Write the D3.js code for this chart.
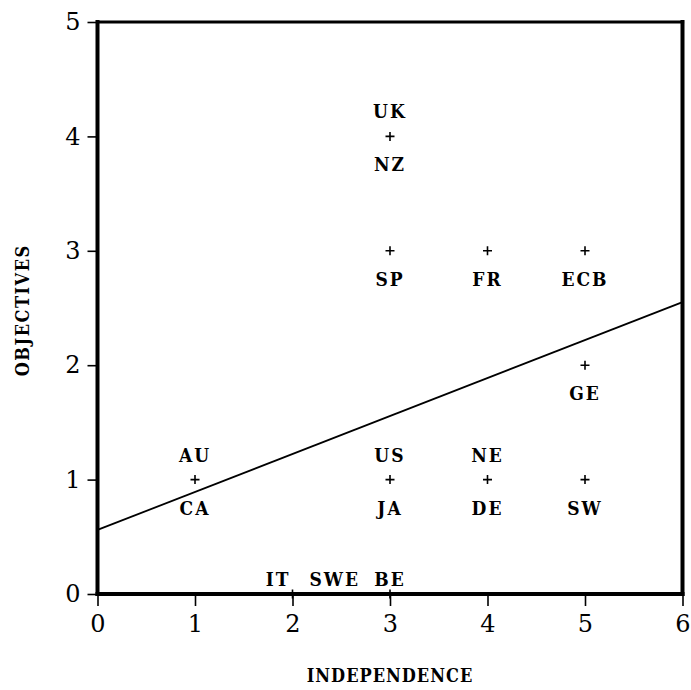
<!DOCTYPE html>
<html>
<head>
<meta charset="utf-8">
<script src="https://cdn.jsdelivr.net/npm/d3@7"></script>
<style>
  html, body { margin: 0; padding: 0; background: #fff; }
  svg { display: block; }
</style>
</head>
<body>
<svg id="chart" width="691" height="690"></svg>
<script>
// ---- data ----
const countries    = ["UK","NZ","SP","FR","ECB","GE","AU","CA","US","JA","NE","DE","SW","IT","SWE","BE"];
const independence = [3, 3, 3, 4, 5, 5, 1, 1, 3, 3, 4, 4, 5, 2, 2, 3];
const objectives   = [4, 4, 3, 3, 3, 2, 1, 1, 1, 1, 1, 1, 1, 0, 0, 0];
const labelSide    = ["N","S","S","S","S","S","N","S","N","S","N","S","S","NW","NE","N"];
const xTicks = [0, 1, 2, 3, 4, 5, 6];
const yTicks = [0, 1, 2, 3, 4, 5];
const fitIntercept = 0.56;
const fitSlope = 0.332;
const xTitle = "INDEPENDENCE";
const yTitle = "OBJECTIVES";

// ---- layout ----
const svg = d3.select("#chart");
const x = d3.scaleLinear().domain([0, 6]).range([97.5, 682.5]);
const y = d3.scaleLinear().domain([0, 5]).range([594, 22]);

const serif = "'DejaVu Serif', serif";
const cond = "'DejaVu Serif Condensed', 'DejaVu Serif', serif";

// axes
const xAxis = svg.append("g").attr("transform", `translate(0,${y(0)})`)
  .call(d3.axisBottom(x).tickValues(xTicks).tickSize(12).tickSizeOuter(0).tickPadding(9).tickFormat(d3.format("d")));
const yAxis = svg.append("g").attr("transform", `translate(${x(0)},0)`)
  .call(d3.axisLeft(y).tickValues(yTicks).tickSize(10).tickSizeOuter(0).tickPadding(7).tickFormat(d3.format("d")));
[xAxis, yAxis].forEach(g => {
  g.select(".domain").remove();
  g.selectAll(".tick line").attr("stroke", "#000").attr("stroke-width", 1.6);
  g.selectAll(".tick text").attr("fill", "#000")
    .style("font-family", serif).style("font-size", "24px");
});

// frame
const frame = svg.append("g").attr("stroke", "#000").attr("stroke-linecap", "square");
frame.append("line").attr("x1", x(0)).attr("x2", x(6)).attr("y1", y(5)).attr("y2", y(5)).attr("stroke-width", 3.2);
frame.append("line").attr("x1", x(0)).attr("x2", x(6)).attr("y1", y(0)).attr("y2", y(0)).attr("stroke-width", 4);
frame.append("line").attr("x1", x(0)).attr("x2", x(0)).attr("y1", y(0)).attr("y2", y(5)).attr("stroke-width", 4);
frame.append("line").attr("x1", x(6)).attr("x2", x(6)).attr("y1", y(0)).attr("y2", y(5)).attr("stroke-width", 4);

// fit line
svg.append("line")
  .attr("x1", x(0)).attr("y1", y(fitIntercept))
  .attr("x2", x(6)).attr("y2", y(fitIntercept + fitSlope * 6))
  .attr("stroke", "#000").attr("stroke-width", 1.8);

// points
const pts = countries.map((c, i) => ({ c, xv: independence[i], yv: objectives[i], side: labelSide[i] }));
const uniq = Array.from(new Set(pts.map(p => p.xv + "," + p.yv))).map(s => s.split(",").map(Number));
svg.append("g").selectAll("path").data(uniq).join("path")
  .attr("d", d => {
    const cx = x(d[0]), cy = y(d[1]), r = 4.5;
    return `M${cx - r},${cy}H${cx + r}M${cx},${cy - r}V${cy + r}`;
  })
  .attr("stroke", "#000").attr("stroke-width", 1.6).attr("fill", "none");

// labels
svg.append("g").selectAll("text").data(pts).join("text")
  .attr("x", d => x(d.xv) + (d.side === "NW" ? -2 : d.side === "NE" ? 17 : 0))
  .attr("y", d => {
    const base = y(d.yv);
    if (d.side === "S") return base + 35;
    return base + (d.yv === 0 ? -8 : -18);
  })
  .attr("text-anchor", d => d.side === "NW" ? "end" : d.side === "NE" ? "start" : "middle")
  .style("font-family", cond).style("font-weight", "bold").style("font-size", "19px")
  .style("letter-spacing", "2px")
  .text(d => d.c);

// axis titles
svg.append("text").attr("x", x(3)).attr("y", 682).attr("text-anchor", "middle")
  .style("font-family", cond).style("font-weight", "bold").style("font-size", "18px")
  .style("letter-spacing", "1px").text(xTitle);
svg.append("text").attr("transform", `translate(29,${y(2.48)}) rotate(-90)`).attr("text-anchor", "middle")
  .style("font-family", cond).style("font-weight", "bold").style("font-size", "18px")
  .style("letter-spacing", "1.5px").text(yTitle);
</script>
</body>
</html>
